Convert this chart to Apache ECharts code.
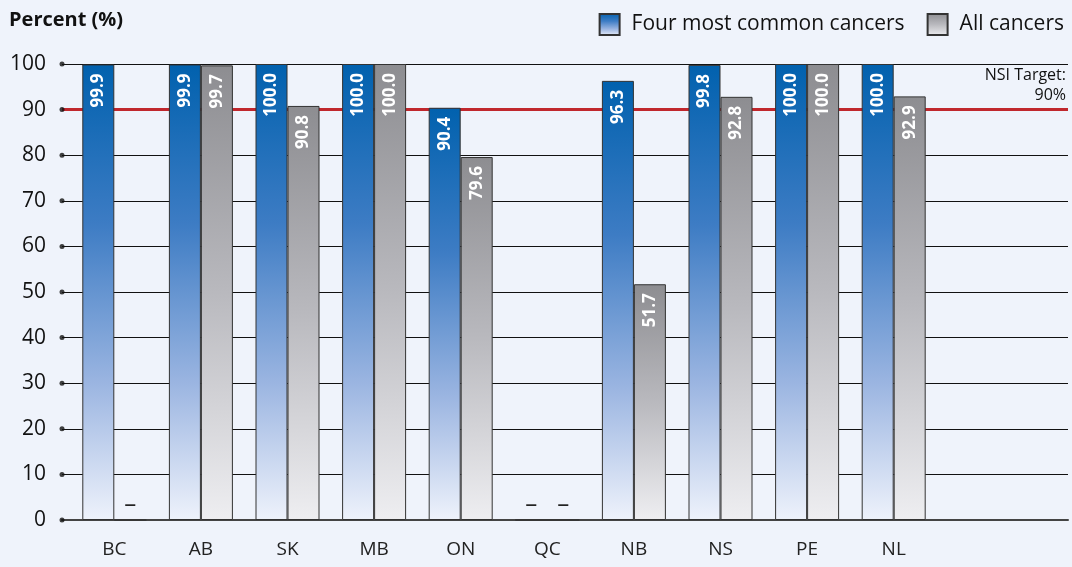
<!DOCTYPE html>
<html>
<head>
<meta charset="utf-8">
<script src="https://cdn.jsdelivr.net/npm/echarts@6/dist/echarts.min.js"></script>
<style>
  html, body { margin: 0; padding: 0; background: #eff3fb; }
  #chart { width: 1072px; height: 567px; background: #eff3fb; }
</style>
</head>
<body>
<div id="chart"></div>
<script>
var provinces = ['BC', 'AB', 'SK', 'MB', 'ON', 'QC', 'NB', 'NS', 'PE', 'NL'];
var fourCommon = [99.9, 99.9, 100.0, 100.0, 90.4, null, 96.3, 99.8, 100.0, 100.0];
var allCancers = [null, 99.7, 90.8, 100.0, 79.6, null, 51.7, 92.8, 100.0, 92.9];
var yTicks = [0, 10, 20, 30, 40, 50, 60, 70, 80, 90, 100];
var target = 90;

var FONT = 'Open Sans';
var BAR_W = 32;

function blueGrad() {
    return new echarts.graphic.LinearGradient(0, 0, 0, 1, [
        { offset: 0, color: '#0161ae' },
        { offset: 0.35, color: '#3d7cc4' },
        { offset: 0.7, color: '#9bb5e1' },
        { offset: 1, color: '#eef2fb' }
    ]);
}
function grayGrad() {
    return new echarts.graphic.LinearGradient(0, 0, 0, 1, [
        { offset: 0, color: '#8d8d91' },
        { offset: 0.5, color: '#b9b9be' },
        { offset: 1, color: '#eeeef1' }
    ]);
}

// value label inside top of bar, rotated, white bold
function valueLabel() {
    return {
        show: true,
        position: 'insideTop',
        distance: 9,
        rotate: 90,
        align: 'right',
        verticalAlign: 'middle',
        color: '#fff',
        fontFamily: FONT,
        fontWeight: 'bold',
        fontSize: 17,
        formatter: function (p) { return p.value ? p.value.toFixed(1) : '–'; }
    };
}
// "–" for provinces with no data
function dashLabel() {
    return {
        show: true,
        position: 'top',
        distance: 14,
        rotate: 0,
        align: 'center',
        verticalAlign: 'middle',
        color: '#222',
        fontWeight: 'normal',
        fontSize: 24,
        formatter: '–'
    };
}

function toBarData(arr) {
    return arr.map(function (v) {
        if (v === null) return { value: 0, label: dashLabel() };
        return v;
    });
}

var myChart = echarts.init(document.getElementById('chart'));
var option = {
    animation: false,
    textStyle: { fontFamily: FONT },
    title: {
        text: 'Percent (%)',
        left: 4,
        top: 5,
        textStyle: { fontSize: 20, fontWeight: 'bold', color: '#111' }
    },
    legend: {
        data: ['Four most common cancers', 'All cancers'],
        right: 3,
        top: 8,
        icon: 'rect',
        itemWidth: 20,
        itemHeight: 21,
        itemGap: 22,
        selectedMode: false,
        textStyle: { fontSize: 21, color: '#111', padding: [0, 0, 0, 7] }
    },
    grid: [
        { left: 62, right: 4, top: 64, bottom: 47 },
        { left: 71, width: 86.6 * (provinces.length + 1), top: 64, bottom: 47 }
    ],
    xAxis: [
        {
            gridIndex: 0,
            type: 'value',
            min: 0,
            max: 1,
            axisLine: { show: true, lineStyle: { color: '#444', width: 2 } },
            axisTick: { show: false },
            axisLabel: { show: false },
            splitLine: { show: false }
        },
        {
            gridIndex: 1,
            type: 'category',
            data: provinces.concat(['']),
            axisLine: { show: false },
            axisTick: { show: false },
            axisLabel: { fontSize: 19, color: '#222', margin: 20 }
        }
    ],
    yAxis: [
        {
            gridIndex: 0,
            type: 'value',
            min: 0,
            max: 100,
            interval: 10,
            axisLine: { show: false },
            axisTick: { show: false },
            axisLabel: { fontSize: 21, color: '#111', margin: 16 },
            splitLine: { show: true, lineStyle: { color: '#111', width: 1 } }
        },
        { gridIndex: 1, type: 'value', min: 0, max: 100, show: false }
    ],
    series: [
        {
            name: 'ticks',
            type: 'scatter',
            xAxisIndex: 0,
            yAxisIndex: 0,
            z: 1,
            clip: false,
            silent: true,
            symbolSize: 5,
            itemStyle: { color: '#111' },
            data: yTicks.map(function (t) { return [0, t]; }),
            markLine: {
                z: 1,
                silent: true,
                symbol: 'none',
                lineStyle: { color: '#c0272d', width: 3, type: 'solid' },
                label: {
                    show: true,
                    position: 'insideEndTop',
                    formatter: 'NSI Target:\n90%',
                    align: 'right',
                    fontSize: 16,
                    lineHeight: 20,
                    color: '#111',
                    distance: [2, 4]
                },
                data: [{ yAxis: target }]
            }
        },
        {
            name: 'Four most common cancers',
            type: 'bar',
            xAxisIndex: 1,
            yAxisIndex: 1,
            z: 3,
            barWidth: BAR_W,
            barGap: '0%',
            itemStyle: { color: blueGrad(), borderColor: '#333', borderWidth: 1 },
            label: valueLabel(),
            data: toBarData(fourCommon)
        },
        {
            name: 'All cancers',
            type: 'bar',
            xAxisIndex: 1,
            yAxisIndex: 1,
            z: 3,
            barWidth: BAR_W,
            barGap: '0%',
            itemStyle: { color: grayGrad(), borderColor: '#333', borderWidth: 1 },
            label: valueLabel(),
            data: toBarData(allCancers)
        }
    ]
};
myChart.setOption(option);

window.addEventListener('resize', function () {
    myChart.resize();
});
</script>
</body>
</html>
